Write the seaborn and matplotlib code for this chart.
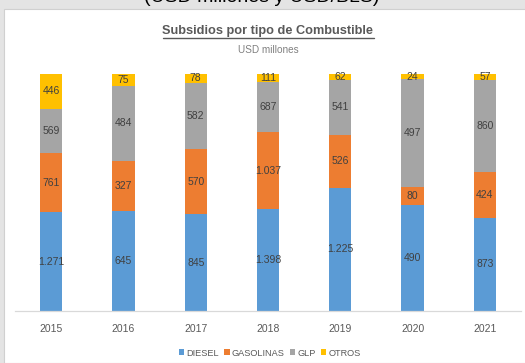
import matplotlib
matplotlib.use("Agg")
import matplotlib.pyplot as plt
import seaborn as sns
import pandas as pd
import numpy as np
from matplotlib.patches import Rectangle
from matplotlib.lines import Line2D

# Subsidios por tipo de combustible, USD millones
years = ["2015", "2016", "2017", "2018", "2019", "2020", "2021"]
diesel = [1271, 645, 845, 1398, 1225, 490, 873]
gasolinas = [761, 327, 570, 1037, 526, 80, 424]
glp = [569, 484, 582, 687, 541, 497, 860]
otros = [446, 75, 78, 111, 62, 24, 57]

series_names = ["DIESEL", "GASOLINAS", "GLP", "OTROS"]
series_values = [diesel, gasolinas, glp, otros]
series_colors = ["#5B9BD5", "#ED7D31", "#A5A5A5", "#FFC000"]

sns.set_style("white")
plt.rcParams["font.family"] = ["Liberation Sans Narrow", "Liberation Sans", "DejaVu Sans"]

vals = np.array(series_values, dtype=float)
totals = vals.sum(axis=0)
shares = vals / totals
cum = np.cumsum(shares, axis=0)

W, H = 525, 363
fig = plt.figure(figsize=(W / 100, H / 100), dpi=100)

# outer frame: gray strip with the heading of the page above the white panel
fig.patches.append(Rectangle((0, 0), 1, 1, transform=fig.transFigure,
                             facecolor="#e4e4e4", edgecolor="none", zorder=-3))
fig.patches.append(Rectangle((4 / W, 0), 1, (H - 9) / H, transform=fig.transFigure,
                             facecolor="white", edgecolor="#d0d0d0", lw=0.8, zorder=-2))
fig.text(262 / W, 1 + 2 / H, "(USD millones y USD/BLS)", ha="center", va="center",
         fontsize=14, color="black", family=["Liberation Sans", "DejaVu Sans"])

ax = fig.add_axes([15 / W, (H - 311) / H, (521 - 15) / W, (311 - 74) / H])

df = pd.DataFrame({"year": years})
for i in range(len(series_names) - 1, -1, -1):
    df["cum"] = cum[i]
    sns.barplot(data=df, x="year", y="cum", color=series_colors[i], width=0.31,
                saturation=1, ax=ax, edgecolor="none")

def fmt(v):
    return f"{int(v):,}".replace(",", ".")

for i in range(len(series_names)):
    for j in range(len(years)):
        base = cum[i][j] - shares[i][j]
        ax.text(j, base + shares[i][j] / 2, fmt(vals[i][j]), ha="center", va="center",
                fontsize=7.5, color="#404040")

ax.set_ylim(0, 1)
ax.set_xlim(-0.5, len(years) - 0.5)
ax.set_xlabel("")
ax.set_ylabel("")
ax.set_yticks([])
ax.tick_params(axis="x", length=0, labelsize=7.5, labelcolor="#595959", pad=9)
for s in ["top", "left", "right"]:
    ax.spines[s].set_visible(False)
ax.spines["bottom"].set_color("#d9d9d9")
ax.spines["bottom"].set_linewidth(0.9)
ax.patch.set_alpha(0)

# title with underline
t = fig.text(268 / W, 1 - 31 / H, "Subsidios por tipo de Combustible", ha="center", va="center",
             fontsize=9.2, fontweight="bold", color="#595959")
fig.canvas.draw()
bb = t.get_window_extent()
fig.lines.append(Line2D([bb.x0 / W, bb.x1 / W], [(bb.y0 - 1) / H, (bb.y0 - 1) / H],
                        transform=fig.transFigure, color="#595959", lw=1.0))
fig.text(268 / W, 1 - 50 / H, "USD millones", ha="center", va="center",
         fontsize=7.2, color="#808080")

handles = [Rectangle((0, 0), 1, 1, facecolor=c, edgecolor="none") for c in series_colors]
fig.legend(handles, series_names, loc="center", bbox_to_anchor=(270 / W, 1 - 353 / H),
           ncol=4, frameon=False, fontsize=6.6, handlelength=0.55, handleheight=0.6,
           handletextpad=0.25, columnspacing=0.6, labelcolor="#595959")

fig.savefig("out.png", dpi=100)
